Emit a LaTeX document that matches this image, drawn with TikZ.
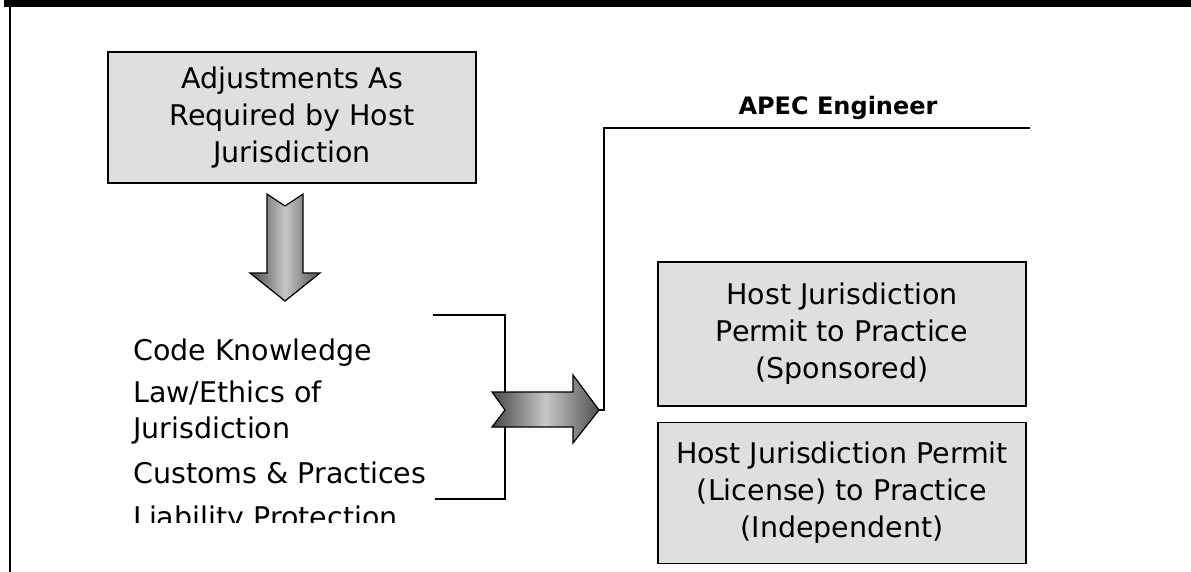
\documentclass[tikz,border=0pt]{standalone}
\usepackage{fontspec}
\setmainfont{DejaVu Sans}
\usetikzlibrary{positioning, calc}

\begin{document}
\begin{tikzpicture}[x=1pt, y=-1pt, line join=miter,
    greybox/.style={draw, line width=1.6pt, fill=gray!25, align=center,
      minimum width=368pt, inner sep=0pt,
      font=\fontsize{28.5}{37}\selectfont},
    bracket/.style={draw, line width=1.5pt},
    blockarrow/.style={draw, line width=1.2pt, shading=axis,
      left color=black!72, right color=black!68, middle color=black!22}]
  \useasboundingbox (0,0) rectangle (1191,572);

  % frame
  \fill (4,0) rectangle (1191,7);
  \draw[line width=2pt] (10,7) -- (10,572);

  % boxes
  \node[greybox, minimum height=131pt] (adj) at (292,117.5)
    {Adjustments As\\Required by Host\\Jurisdiction};
  \node[greybox, minimum height=144pt] (sponsored) at (842,334)
    {Host Jurisdiction\\Permit to Practice\\(Sponsored)};
  \node[greybox, minimum height=141pt, below=15pt of sponsored] (independent)
    {Host Jurisdiction Permit\\(License) to Practice\\(Independent)};

  % list of items, last line cut off
  \begin{scope}
    \clip (100,300) rectangle (460,522);
    \node[anchor=north west, inner sep=0pt, align=left,
          font=\fontsize{28.5}{36}\selectfont] (skills) at (133,338.5)
      {Code Knowledge\\[6pt]
       Law/Ethics of\\
       Jurisdiction\\[9pt]
       Customs \& Practices\\[8pt]
       Liability Protection};
  \end{scope}

  % bracket and line to APEC Engineer
  \coordinate (brtop) at (433,315);
  \coordinate (brbot) at (435,499);
  \coordinate (tip) at (599,410);
  \coordinate (lineend) at (1030,128);
  \draw[bracket] (brtop) -- (brtop -| 505,0) -- (brbot -| 505,0) -- (brbot);
  \draw[bracket] (tip) -- ++(5,0) |- (lineend);
  \node[anchor=base, inner sep=0pt, font=\fontsize{24}{28}\selectfont\bfseries]
    (apec) at (838,115) {APEC Engineer};

  % block arrows
  \path[blockarrow] (267,194) -- (285,206) -- (303,194) -- (303,273)
    -- (320,273) -- (285,301) -- (250,273) -- (267,273) -- cycle;
  \path[blockarrow] (492,392) -- (573,392) -- (573,375) -- (tip)
    -- (573,443) -- (573,427) -- (492,427) -- (505,410) -- cycle;
\end{tikzpicture}
\end{document}
